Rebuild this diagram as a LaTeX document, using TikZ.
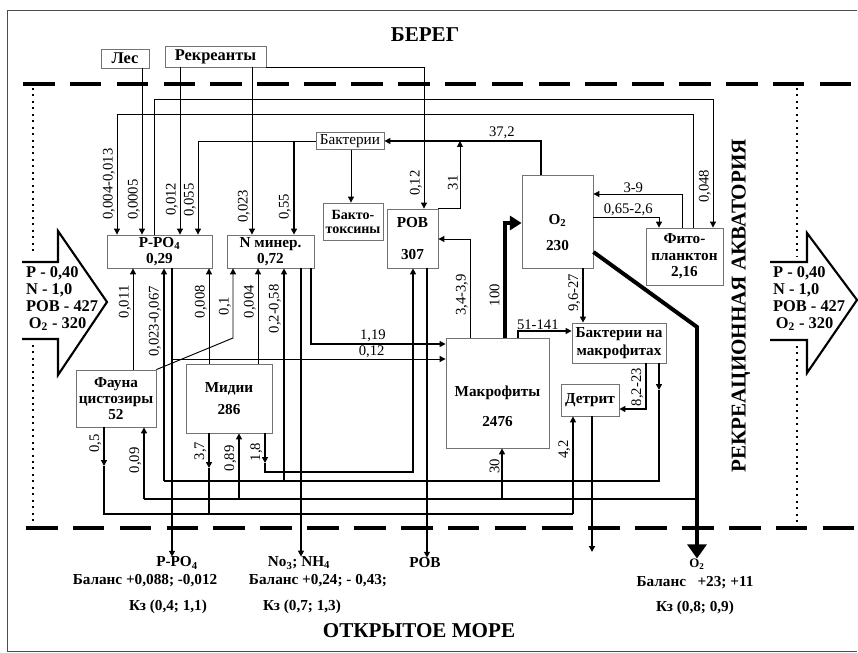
\documentclass[tikz,border=0pt]{standalone}
\usepackage{fontspec}
\setmainfont{Liberation Serif}
\usetikzlibrary{arrows.meta}
\newcommand{\fntnum}{\fontsize{12.5}{13}\selectfont}
\newcommand{\fntbox}{\fontsize{13}{12}\selectfont\bfseries}
\newcommand{\fntsmall}{\fontsize{12}{12}\selectfont\bfseries}
\newcommand{\fnttop}{\fontsize{14}{14}\selectfont\bfseries}
\newcommand{\fntarrow}{\fontsize{14}{14.5}\selectfont\bfseries}
\newcommand{\fnttitle}{\fontsize{18}{20}\selectfont\bfseries}

\begin{document}
\begin{tikzpicture}[
  x=0.03cm, y=-0.03cm,
  >={Triangle[length=5pt,width=5pt]},
  % --- Styles ---
  box/.style={draw=black!55, line width=0.7pt, fill=white, inner sep=0pt,
    align=center, font=\fntbox},
  boxtxt/.style={align=center, font=\fntbox},
  btxt/.style={font=\fntbox, inner sep=0pt},
  ttl/.style={font=\fnttitle, inner sep=0pt},
  lbl/.style={font=\fntnum, rotate=90, anchor=south, inner sep=1.5pt},
  lblh/.style={font=\fntnum, anchor=south, inner sep=0.5pt},
  wire/.style={line width=0.8pt},
  wiremid/.style={line width=1.4pt},
  wirethick/.style={line width=2.2pt},
  wirexl/.style={line width=3.4pt},
  shore/.style={line width=2.6pt, dash pattern=on 27pt off 13pt},
  zone/.style={line width=1.8pt, dash pattern=on 1.7pt off 3.8pt},
  bigarrow/.style={line width=1.8pt, line join=miter},
]
\useasboundingbox (0,0) rectangle (858,653);

% === FRAME, SHORE AND SEA LINES ===
\draw[black!70, line width=0.6pt] (857,10) -- (7,10) -- (7,651) -- (857,651);
\draw[shore] (23,84) -- (858,84);
\draw[shore] (26,528) -- (858,528);
\draw[zone] (33,88) -- (33,254);
\draw[zone] (33,345) -- (33,522);
\draw[zone] (797,88) -- (797,256);
\draw[zone] (797,346) -- (797,528);

% lanes and levels
\foreach \n in {104,117,133,142,144,154,164,172,180,198,209,233,239,252,258,265,
  284,294,301,311,351,413,424,427,460,470,502,505,518,541,573,583,592,646,659,
  682,693,697,713}
  \coordinate (v\n) at (\n,0);
\foreach \n in {99,114,194,217,223,239,252,327,331,338,344,359,390,409,463,466,
  468,472,481,499,514}
  \coordinate (h\n) at (0,\n);
\coordinate (dout) at (592,552);

% === TITLES ===
\node[ttl] (bereg) at (425,35) {БЕРЕГ};
\node[ttl] (more) at (419,631) {ОТКРЫТОЕ МОРЕ};
\node[ttl, rotate=90] (akv) at (741,306) {РЕКРЕАЦИОННАЯ АКВАТОРИЯ};

% === BIG ARROWS ===
\draw[bigarrow] (22,262) -- (58,262) -- (58,231) -- (107,302) -- (58,375)
  -- (58,339) -- (22,339);
\node[font=\fntarrow, align=left, anchor=west, inner sep=0pt] (inL) at (26,298.5)
  {Р - 0,40\\N - 1,0\\РОВ - 427\\\,O\textsubscript{2} - 320};
\draw[bigarrow] (770,262) -- (807,262) -- (807,233) -- (857,300) -- (807,373)
  -- (807,340) -- (770,340);
\node[font=\fntarrow, align=left, anchor=west, inner sep=0pt] (inR) at (773,298.5)
  {Р - 0,40\\N - 1,0\\РОВ - 427\\\,O\textsubscript{2} - 320};

% === BOXES ===
\node[box, minimum width=1.44cm, minimum height=0.57cm, font=\fnttop] (Les)
  at (125,58.5) {Лес};
\node[box, minimum width=3.03cm, minimum height=0.63cm, font=\fnttop] (Rekr)
  at (215.5,56.5) {Рекреанты};
\node[box, minimum width=3.15cm, minimum height=0.99cm] (PPO)
  at (159.5,251.5) {Р-РО\textsubscript{4}\\[1.5pt]0,29};
\node[box, minimum width=2.61cm, minimum height=0.99cm] (Nmin)
  at (270.5,251.5) {N минер.\\[1.5pt]0,72};
\node[box, minimum width=2.04cm, minimum height=0.51cm,
  font=\fontsize{13}{13}\selectfont] (Bakt) at (350,141) {Бактерии};
\node[box, minimum width=1.80cm, minimum height=1.11cm, font=\fntsmall] (Btox)
  at (353,221.5) {Бакто-\\[0pt]токсины};
\node[box, minimum width=1.53cm, minimum height=1.77cm] (ROV)
  at (412.5,238.5) {РОВ\\[15pt]307};
\node[box, minimum width=2.13cm, minimum height=2.79cm,
  label={[boxtxt, yshift=-0.33cm]center:{O\textsubscript{2}\\[10pt]230}}] (Otwo)
  at (557.5,221.5) {};
\node[box, minimum width=2.31cm, minimum height=1.71cm] (Fito)
  at (684.5,256.5) {Фито-\\[2pt]планктон\\[2pt]2,16};
\node[box, minimum width=2.40cm, minimum height=1.71cm] (Fauna)
  at (116,398.5) {Фауна\\[2pt]цистозиры\\[2pt]52};
\node[box, minimum width=2.58cm, minimum height=2.07cm] (Midii)
  at (229,398.5) {Мидии\\[7pt]286};
\node[box, minimum width=3.09cm, minimum height=3.30cm,
  label={[boxtxt, yshift=-0.4cm]center:{Макрофиты\\[14pt]2476}}] (Makro)
  at (497.5,393) {};
\node[box, minimum width=2.82cm, minimum height=1.20cm] (BaktM)
  at (619,343) {Бактерии на\\[3pt]макрофитах};
\node[box, minimum width=1.74cm, minimum height=0.96cm] (Detr)
  at (590,400) {Детрит};

% === OUTPUT TEXTS ===
\node[btxt] (pout) at (177,563) {Р-РО\textsubscript{4}};
\node[btxt] (pbal) at (145,581) {Баланс +0,088; -0,012};
\node[btxt] (pkz) at (168,607) {Кз (0,4; 1,1)};
\node[btxt] (nout) at (299,563) {No\textsubscript{3}; NH\textsubscript{4}};
\node[btxt] (nbal) at (318,581) {Баланс +0,24; - 0,43;};
\node[btxt] (nkz) at (302,607) {Кз (0,7; 1,3)};
\node[btxt] (rout) at (425,563) {РОВ};
\node[btxt, font=\fontsize{11}{11}\selectfont\bfseries] (oout) at (697,564)
  {O\textsubscript{2}};
\node[btxt] (obal) at (695,583) {Баланс\ \ \ +23; +11};
\node[btxt] (okz) at (695,608) {Кз (0,8; 0,9)};

% === ARROWS ===
% from the shore
\draw[wire,->] (Les.south -| v142) -- node[lbl, pos=.79] {0,0005} (PPO.north -| v142);
\draw[wire,->] (Rekr.south -| v180) -- node[lbl, pos=.79] {0,012} (PPO.north -| v180);
\draw[wire,->] (Rekr.south -| v252) -- node[lbl, pos=.83] {0,023} (Nmin.north -| v252);
\draw[wire,->] (Rekr.south east) -- (v424 |- Rekr.south)
  -- node[lbl, pos=.82] {0,12} (ROV.north -| v424);
% phytoplankton loop
\draw[wire,->] (PPO.north -| v154) |- (v713 |- h99)
  -- node[lbl, pos=.68] {0,048} (Fito.north -| v713);
\draw[wire,->] (Fito.north -| v693) |- (v117 |- h114)
  -- node[lbl, pos=.58] {0,004-0,013} (PPO.north -| v117);
\draw[wire,->] (Fito.north -| v682) -- (v682 |- h194)
  -- node[lblh, pos=.55] {3-9} (Otwo.east |- h194);
\draw[wire,->] (Otwo.east |- h217) -- node[lblh, pos=.53] {0,65-2,6} (v659 |- h217)
  -- (Fito.north -| v659);
% bacteria
\draw[wire,->] (Bakt.west) -- (v198 |- Bakt.west)
  -- node[lbl, pos=.63] {0,055} (PPO.north -| v198);
\draw[wirethick,->] (v294 |- Bakt.west) -- node[lbl, pos=.70] {0,55} (Nmin.north -| v294);
\draw[wirethick,->] (Otwo.north -| v541) -- (v541 |- Bakt.east)
  -- node[lblh, pos=.25] {37,2} (Bakt.east);
\draw[wire,->] (ROV.north east) -- (v460 |- ROV.north)
  -- node[lbl, pos=.38] {31} (v460 |- Bakt.east);
\draw[wire,->] (Bakt.south -| v351) -- (Btox.north -| v351);
% macrophytes
\draw[wirexl, -{Triangle[length=10pt,width=12pt]}] (Makro.north -| v505)
  -- node[lbl, pos=.37, inner sep=3pt] {100} (v505 |- h223) -- (Otwo.west |- h223);
\draw[wire,->] (Makro.north -| v470) -- node[lbl, pos=.43] {3,4-3,9} (v470 |- h239)
  -- (ROV.east |- h239);
\draw[wiremid,->] (Makro.north -| v518) -- (v518 |- h331)
  -- node[lblh, pos=.37] {51-141} (BaktM.west |- h331);
\draw[wiremid,->] (Otwo.south -| v583) -- node[lbl, pos=.45] {9,6-27} (BaktM.north -| v583);
\draw[wirexl, -{Triangle[length=12pt,width=16pt]}] (Otwo.east |- h252) -- (v697 |- h327)
  -- (oout.north -| v697);
% bacteria on macrophytes
\draw[wiremid,->] (BaktM.south -| v646) -- node[lbl, pos=.52] {8,2-23} (v646 |- h409)
  -- (Detr.east |- h409);
\draw[wiremid,->] (BaktM.south -| v659) -- (v659 |- h390);
\draw[wiremid] (v659 |- h390) -- (v659 |- h481) -- (v164 |- h481);
\draw[wirethick,->] (v164 |- h481) -- node[lbl, pos=.75] {0,023-0,067} (PPO.south -| v164);
\draw[wirethick,->] (v284 |- h481) -- node[lbl, pos=.81] {0,2-0,58} (Nmin.south -| v284);
\draw[wiremid,->] (Detr.south -| v592) -- (dout);
% oxygen bus
\draw[wiremid] (v697 |- h499) -- (v144 |- h499);
\draw[wiremid,->] (v144 |- h499) -- node[lbl, pos=.54] {0,09} (Fauna.south -| v144);
\draw[wiremid,->] (v239 |- h499) -- node[lbl, pos=.62] {0,89} (Midii.south -| v239);
\draw[wiremid,->] (v502 |- h499) -- node[lbl, pos=.65] {30} (Makro.south -| v502);
% detritus bus
\draw[wiremid,->] (Fauna.south -| v104) -- node[lbl, pos=.41] {0,5} (v104 |- h466);
\draw[wiremid,->] (Midii.south -| v209) -- node[lbl, pos=.51] {3,7} (v209 |- h468);
\draw[wiremid] (v104 |- h466) -- (v104 |- h514) -- (v573 |- h514);
\draw[wiremid] (v209 |- h468) -- (v209 |- h514);
\draw[wiremid,->] (v573 |- h514) -- node[lbl, pos=.66] {4,2} (Detr.south -| v573);
% mussels to DOM
\draw[wiremid,->] (Midii.south -| v265) -- node[lbl, pos=.63] {1,8} (v265 |- h463);
\draw[wirethick,->] (v265 |- h463) -- (v265 |- h472) -- (v413 |- h472)
  -- (ROV.south -| v413);
% mineral and DOM outputs
\draw[wirethick,->] (PPO.south -| v172) -- (pout.north -| v172);
\draw[wire,->] (v172 |- h359) -- node[lblh, pos=.73] {0,12} (Makro.west |- h359);
\draw[wirethick,->] (Nmin.south -| v301) -- (nout.north -| v301);
\draw[wirethick,->] (Nmin.south -| v311) -- (v311 |- h344)
  -- node[lblh, pos=.46] {1,19} (Makro.west |- h344);
\draw[wirethick,->] (ROV.south -| v427) -- (rout.north -| v427);
% fauna and mussels to minerals
\draw[wire,->] (Fauna.north -| v133) -- node[lbl, pos=.67] {0,011} (PPO.south -| v133);
\draw[wire,->] (Midii.north -| v209) -- node[lbl, pos=.65] {0,008} (PPO.south -| v209);
\draw[wire,->] (Fauna.north east) -- (v233 |- h338)
  -- node[lbl, pos=.46] {0,1} (Nmin.south -| v233);
\draw[wire,->] (Midii.north -| v258) -- node[lbl, pos=.65] {0,004} (Nmin.south -| v258);
\end{tikzpicture}
\end{document}
